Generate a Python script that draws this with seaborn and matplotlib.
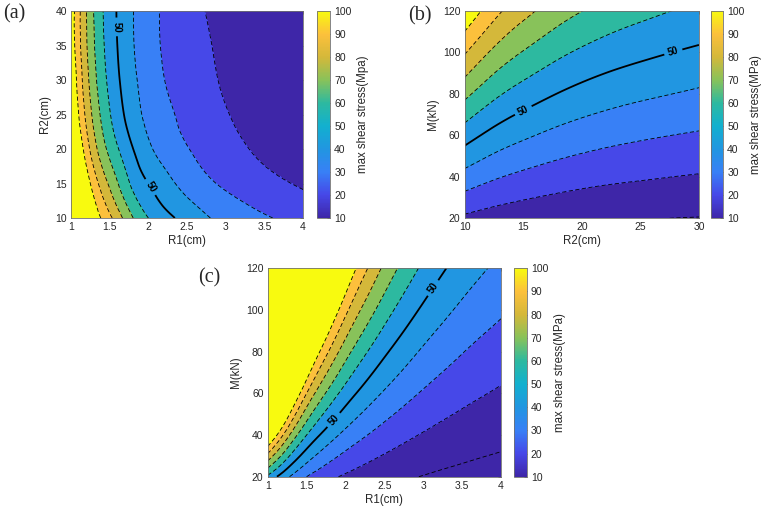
import numpy as np
import matplotlib
matplotlib.use('Agg')
import matplotlib.pyplot as plt
import matplotlib.tri as mtri
import seaborn as sns
from matplotlib.colors import Normalize
from matplotlib.cm import ScalarMappable

# ---- data ----
# (a) stress vs R1 (columns) and R2 (rows), fixed M
r1_grid = [1.0, 1.25, 1.5, 1.75, 2.0, 2.25, 2.5, 2.75, 3.0, 3.25, 3.5, 3.75, 4.0]
r2_grid_a = [10, 12.5, 15, 20, 25, 30, 35, 40]
stress_a = [
    [142.6, 110.4, 92.3, 73.7, 60.0, 52.4, 46.1, 40.9, 37.0, 33.8, 31.1, 28.7, 26.7],
    [140.1, 105.8, 84.7, 66.2, 54.4, 46.7, 41.0, 36.4, 32.6, 29.4, 26.6, 24.2, 22.2],
    [133.7, 100.0, 78.2, 60.6, 50.0, 42.5, 36.7, 32.0, 28.3, 25.3, 22.8, 20.7, 19.0],
    [121.6, 89.0, 67.1, 52.7, 41.8, 35.2, 30.5, 26.4, 23.1, 20.5, 18.3, 16.5, 15.0],
    [113.7, 81.9, 60.7, 46.8, 37.3, 31.7, 27.1, 23.4, 20.5, 18.1, 16.2, 14.6, 13.3],
    [110.1, 77.8, 57.4, 44.2, 35.3, 29.2, 25.0, 21.7, 19.0, 16.9, 15.1, 13.6, 12.3],
    [106.6, 75.3, 55.5, 42.7, 33.9, 28.0, 23.9, 20.8, 18.2, 16.2, 14.5, 13.0, 11.5],
    [106.0, 74.2, 54.7, 42.3, 33.7, 27.6, 23.2, 19.8, 17.1, 15.0, 13.2, 11.8, 10.8],
]

# (b) stress vs R2 (columns) and M (rows), fixed R1
r2_grid_b = [10, 12.5, 15, 17.5, 20, 22.5, 25, 27.5, 30]
m_grid = [20, 40, 60, 80, 100, 120]
stress_b = [
    [18.2, 15.6, 13.9, 12.6, 11.7, 11.0, 10.5, 10.0, 9.7],
    [36.4, 31.2, 27.8, 25.3, 23.4, 22.0, 21.0, 20.1, 19.3],
    [54.6, 46.8, 41.7, 37.9, 35.1, 33.0, 31.4, 30.1, 29.0],
    [72.8, 62.4, 55.6, 50.6, 46.8, 44.0, 41.9, 40.2, 38.6],
    [91.0, 78.0, 69.5, 63.2, 58.5, 55.0, 52.4, 50.2, 48.3],
    [109.2, 93.6, 83.4, 75.8, 70.2, 66.0, 62.9, 60.2, 58.0],
]

# (c) stress vs R1 (columns) and M (rows), fixed R2
stress_c = [
    [58.0, 41.8, 30.0, 23.1, 18.6, 15.4, 13.0, 11.1, 9.7, 8.5, 7.6, 6.9, 6.3],
    [116.0, 83.6, 60.0, 46.3, 37.1, 30.7, 25.9, 22.2, 19.3, 17.0, 15.2, 13.7, 12.5],
    [174.0, 125.4, 90.0, 69.4, 55.7, 46.1, 38.9, 33.4, 29.0, 25.6, 22.8, 20.6, 18.8],
    [232.0, 167.2, 120.0, 92.6, 74.2, 61.4, 51.8, 44.5, 38.6, 34.1, 30.4, 27.4, 25.0],
    [290.0, 209.0, 150.0, 115.7, 92.8, 76.8, 64.8, 55.6, 48.3, 42.6, 38.0, 34.3, 31.3],
    [348.0, 250.8, 180.0, 138.8, 111.4, 92.2, 77.8, 66.7, 58.0, 51.1, 45.6, 41.2, 37.6],
]

fill_levels = [0, 10, 20, 30, 40, 60, 70, 80, 90, 100, 10000]
dash_levels = [10, 20, 30, 40, 60, 70, 80, 90, 100]
cbar_ticks = [10, 20, 30, 40, 50, 60, 70, 80, 90, 100]

# parula-like colours at 10, 20, ..., 100
parula = ['#3e26a8', '#4648e8', '#3880f6', '#2196e1', '#12b0cf',
          '#2db9a0', '#88c25a', '#d4b83a', '#fcc03c', '#f8fa0f']
band_colors = [parula[0], parula[0], parula[1], parula[2], parula[3],
               parula[5], parula[6], parula[7], parula[8], parula[9]]

sns.set_style('white')
plt.rcParams['font.family'] = ['Liberation Sans', 'DejaVu Sans']
text_col = '#262626'
cmap = sns.blend_palette(parula, as_cmap=True)

fig = plt.figure(figsize=(7.66, 5.13), dpi=100)


def smooth_tri(x, y, z):
    # triangulate the grid in unit coordinates and let matplotlib refine it
    x = np.asarray(x, float)
    y = np.asarray(y, float)
    ux = (x - x[0]) / (x[-1] - x[0])
    uy = (y - y[0]) / (y[-1] - y[0])
    UX, UY = np.meshgrid(ux, uy)
    nx, ny = len(x), len(y)
    tris = []
    for j in range(ny - 1):
        for i in range(nx - 1):
            a = j * nx + i
            tris.append([a, a + 1, a + nx + 1])
            tris.append([a, a + nx + 1, a + nx])
    tri = mtri.Triangulation(UX.ravel(), UY.ravel(), tris)
    refiner = mtri.UniformTriRefiner(tri)
    interp = mtri.CubicTriInterpolator(tri, np.asarray(z, float).ravel(), kind='min_E')
    tri_r, z_r = refiner.refine_field(np.asarray(z, float).ravel(), triinterpolator=interp, subdiv=3)
    tri_d = mtri.Triangulation(x[0] + tri_r.x * (x[-1] - x[0]),
                               y[0] + tri_r.y * (y[-1] - y[0]), tri_r.triangles)
    return tri_d, z_r


def panel(ax_rect, cax_rect, x, y, z, xlabel, ylabel, clabel_txt,
          xticks, yticks, label_pos, tag, tag_xy):
    ax = fig.add_axes(ax_rect)
    cax = fig.add_axes(cax_rect)
    tri, zz = smooth_tri(x, y, z)
    ax.tricontourf(tri, zz, levels=fill_levels, colors=band_colors)
    ax.tricontour(tri, zz, levels=dash_levels, colors='k', linewidths=0.6,
                  linestyles=[(0, (5, 3))])
    cs = ax.tricontour(tri, zz, levels=[50], colors='k', linewidths=1.3)
    lbls = ax.clabel(cs, fmt='%d', manual=label_pos, fontsize=7,
                     inline=True, inline_spacing=4)
    for t in lbls:
        t.set_fontweight('bold')
    ax.set_xlim(x[0], x[-1])
    ax.set_ylim(y[0], y[-1])
    ax.set_xticks(xticks)
    ax.set_yticks(yticks)
    ax.set_xticklabels([f'{v:g}' for v in xticks])
    ax.set_xlabel(xlabel, fontsize=8.3, color=text_col, labelpad=2)
    ax.set_ylabel(ylabel, fontsize=8.3, color=text_col, labelpad=3)
    ax.tick_params(direction='in', length=2.5, width=0.5, labelsize=7.5,
                   colors=text_col, top=True, right=True, pad=3)
    for s in ax.spines.values():
        s.set_linewidth(0.6)
        s.set_color('#707070')

    cb = fig.colorbar(ScalarMappable(norm=Normalize(10, 100), cmap=cmap),
                      cax=cax, ticks=cbar_ticks)
    cb.outline.set_linewidth(0.6)
    cb.outline.set_edgecolor('#707070')
    cax.tick_params(direction='in', length=2, width=0.5, labelsize=7.5,
                    colors=text_col, pad=3)
    cb.set_label(clabel_txt, fontsize=8.3, color=text_col, labelpad=4)

    fig.text(tag_xy[0], tag_xy[1], tag, fontsize=14.5, va='center', ha='left',
             family=['Liberation Serif', 'DejaVu Serif'])


panel([0.0927, 0.575, 0.3029, 0.4035], [0.4134, 0.575, 0.0174, 0.4035],
      r1_grid, r2_grid_a, stress_a, 'R1(cm)', 'R2(cm)', 'max shear stress(Mpa)',
      [1, 1.5, 2, 2.5, 3, 3.5, 4], [10, 15, 20, 25, 30, 35, 40],
      [(1.59, 37.7), (2.0, 14.3)], '(a)', (0.004, 0.9737))

panel([0.6066, 0.5745, 0.3059, 0.4047], [0.9286, 0.5745, 0.0153, 0.4047],
      r2_grid_b, m_grid, stress_b, 'R2(cm)', 'M(kN)', 'max shear stress(MPa)',
      [10, 15, 20, 25, 30], [20, 40, 60, 80, 100, 120],
      [(15.0, 72.0), (27.8, 100.3)], '(b)', (0.5326, 0.9688))

panel([0.3495, 0.0708, 0.3046, 0.4062], [0.6714, 0.0708, 0.0162, 0.4062],
      r1_grid, m_grid, stress_c, 'R1(cm)', 'M(kN)', 'max shear stress(MPa)',
      [1, 1.5, 2, 2.5, 3, 3.5, 4], [20, 40, 60, 80, 100, 120],
      [(1.84, 47.5), (3.12, 110.7)], '(c)', (0.2589, 0.4591))

fig.savefig('out.png', dpi=100)
